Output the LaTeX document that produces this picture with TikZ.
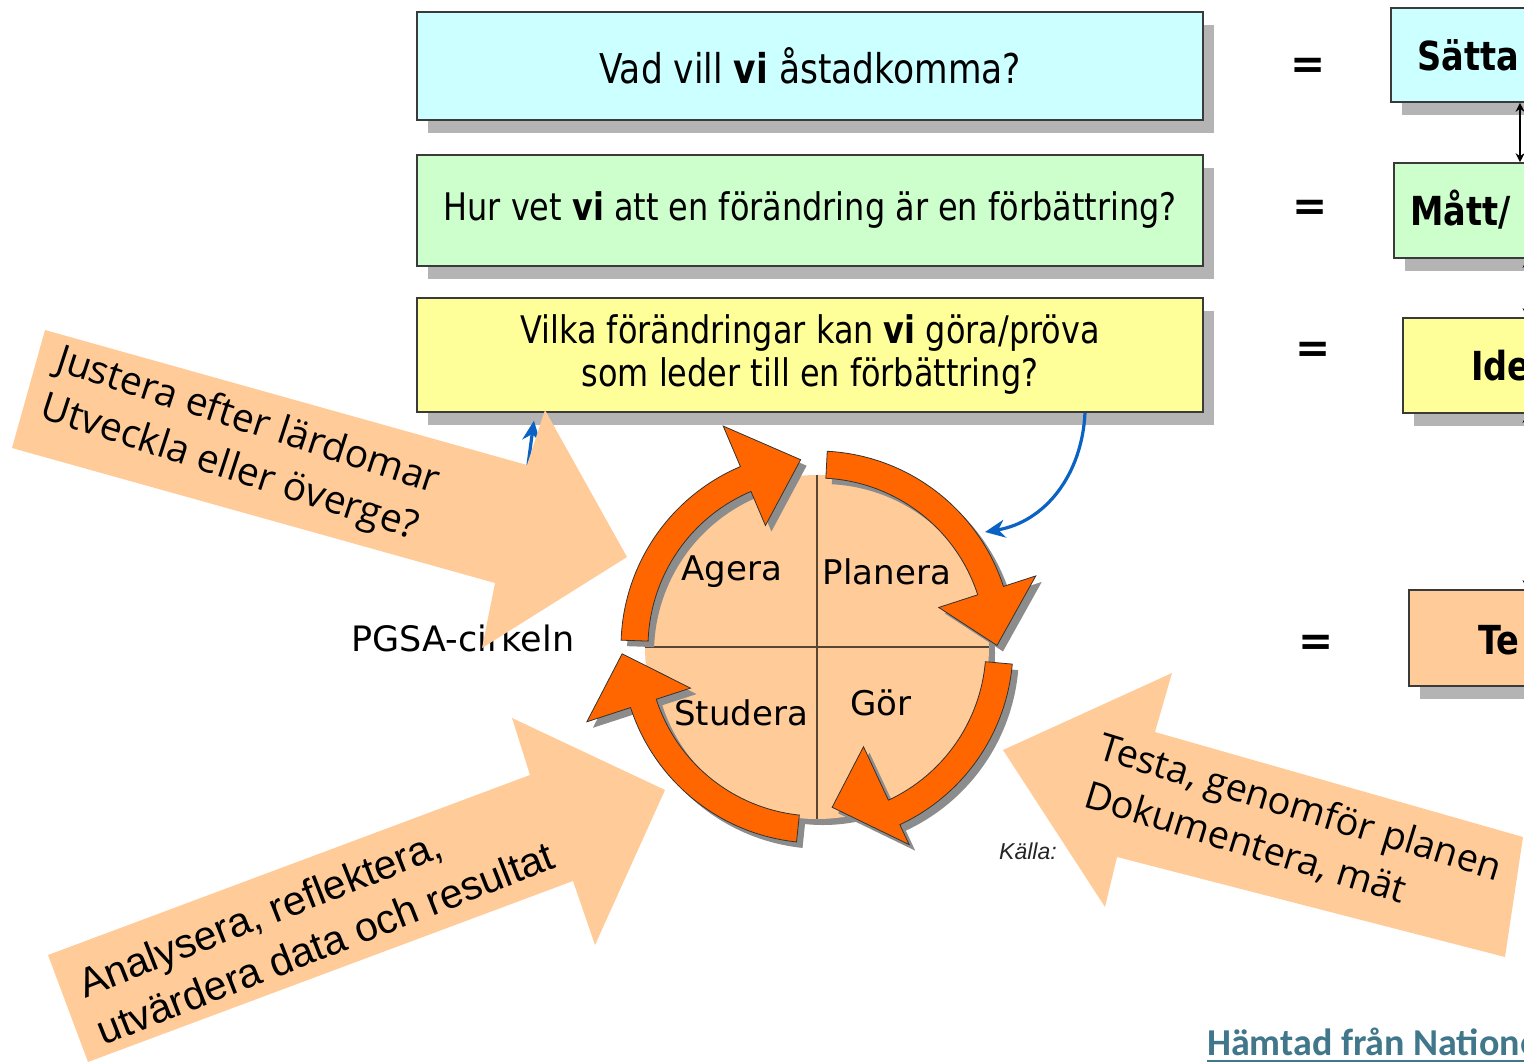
\documentclass[tikz,border=0pt]{standalone}
\usepackage{fontspec}
\usetikzlibrary{shadows,arrows.meta}
\setmainfont{DejaVu Sans}
\newfontfamily\tah{DejaVu Sans}[FakeStretch=0.84]
\newfontfamily\verd{DejaVu Sans}
\newfontfamily\opens{Open Sans}
\newfontfamily\arialf{Liberation Sans}
\newfontfamily\calib{Carlito}
\definecolor{cyanbox}{HTML}{CCFFFF}
\definecolor{greenbox}{HTML}{CCFFCC}
\definecolor{yellowbox}{HTML}{FFFF99}
\definecolor{peach}{HTML}{FFCC99}
\definecolor{callout}{HTML}{FFCC99}
\definecolor{ringorange}{HTML}{FF6600}
\definecolor{boxline}{HTML}{3A3A3A}
\definecolor{boxshadow}{HTML}{B4B4B4}
\definecolor{ringshadow}{HTML}{8C8C8C}
\definecolor{divline}{HTML}{5A4630}
\definecolor{bluec}{HTML}{0A62C4}
\definecolor{srcteal}{HTML}{41778A}
\newcommand\fsz[2]{\fontsize{#1}{#2}\selectfont}
\newcommand\ringpiece[7]{%
  \path[#1] ({817+196*cos(#2)},{647+196*sin(#2)}) arc[start angle=#2, end angle=#3, radius=196]
   -- ({817+#5*cos(#3)},{647+#5*sin(#3)}) -- ({817+#7*cos(#6)},{647+#7*sin(#6)})
   -- ({817+#4*cos(#3)},{647+#4*sin(#3)}) -- ({817+169*cos(#3)},{647+169*sin(#3)})
   arc[start angle=#3, end angle=#2, radius=169] -- cycle;}
\begin{document}
\begin{tikzpicture}[x=1pt,y=-1pt,
  qbox/.style={draw=boxline, line width=1.6pt, inner sep=0pt,
    general shadow={fill=boxshadow, shadow xshift=11pt, shadow yshift=-13pt}},
  qtext/.style={font=\tah\fsz{38}{43}, align=center},
  sidetext/.style={anchor=west, inner sep=0pt, font=\tah\bfseries\fsz{40}{48}},
  eqsign/.style={font=\verd\bfseries\fsz{42}{48}},
  sidearrow/.style={draw=black, line width=1.3pt, {Stealth[length=9pt,width=9pt]}-{Stealth[length=9pt,width=9pt]}},
  bluearrow/.style={draw=bluec, line width=3.2pt, -{Stealth[length=20pt,width=18pt]}},
  ringpart/.style={fill=ringorange, draw=black!80, line width=0.8pt},
  ringshade/.style={fill=ringshadow, shift={(6,6)}},
  phase/.style={font=\verd\fsz{34}{40}, inner sep=0pt},
  calloutshape/.style={fill=callout},
  callouttext/.style={align=left, inner sep=0pt}
]
\useasboundingbox (0,0) rectangle (1524,1061);
\clip (0,0) rectangle (1524,1061);
\fill[white] (0,0) rectangle (1524,1061);

% question boxes
\node[qbox, fill=cyanbox, minimum width=786pt, minimum height=108pt, font=\tah\fsz{41}{48}] (q1) at (810,66) {Vad vill \textbf{vi} åstadkomma?};
\node[qbox, fill=greenbox, minimum width=786pt, minimum height=111pt, qtext] (q2) at (810,210.5) {Hur vet \textbf{vi} att en förändring är en förbättring?};
\node[qbox, fill=yellowbox, minimum width=786pt, minimum height=114pt, qtext] (q3) at (810,355) {Vilka förändringar kan \textbf{vi} göra/pröva\\som leder till en förbättring?};

% right boxes
\node[qbox, fill=cyanbox, minimum width=200pt, minimum height=94pt, anchor=west] (r1) at (1390,55) {};
\node[qbox, fill=greenbox, minimum width=200pt, minimum height=95pt, anchor=west] (r2) at (1393,210.5) {};
\node[qbox, fill=yellowbox, minimum width=200pt, minimum height=95pt, anchor=west] (r3) at (1402,365.5) {};
\node[qbox, fill=peach, minimum width=200pt, minimum height=96pt, anchor=west] (r4) at (1408,638) {};
\node[sidetext] (r1t) at (1417,55) {Sätta};
\node[sidetext] (r2t) at (1410,210) {Mått/};
\node[sidetext] (r3t) at (1471,366) {Ide};
\node[sidetext] (r4t) at (1478,640) {Te};

\node[eqsign] (e1) at (1308,68) {=};
\node[eqsign] (e2) at (1310,210) {=};
\node[eqsign] (e3) at (1313,352) {=};
\node[eqsign] (e4) at (1316,645) {=};

\coordinate (xa) at (1520,0);
\coordinate (xb) at (1527,0);
\draw[sidearrow] (r1.south -| xa) -- (r2.north -| xa);
\draw[sidearrow] (r2.south -| xb) -- (r3.north -| xb);
\draw[sidearrow] (r3.south -| xb) -- (r4.north -| xb);

% blue arrows
\coordinate (bx1) at (1085,0);
\coordinate (b1end) at (985,532);
\draw[bluearrow] (q3.south -| bx1) .. controls (1082,475) and (1045,522) .. (b1end);
\coordinate (bx2) at (535,0);
\coordinate (b2start) at (526,480);
\draw[bluearrow, shorten >=8pt] (b2start) -- (q3.south -| bx2);

% PDSA circle
\fill[ringshadow] (823,653) circle[radius=172];
\node[circle, fill=peach, inner sep=0pt, minimum size=344pt] (disc) at (817,647) {};
\draw[divline, line width=1.6pt] (disc.north) -- (disc.south);
\draw[divline, line width=1.6pt] (disc.west) -- (disc.east);

\ringpiece{ringshade}{182}{247}{132}{240}{265}{188}
\ringpiece{ringshade}{273}{342}{128}{230}{359.5}{180}
\ringpiece{ringshade}{5}{65}{110}{218}{84.6}{161}
\ringpiece{ringshade}{96}{162}{133}{242}{178}{195}
\ringpiece{ringpart}{182}{247}{132}{240}{265}{188}
\ringpiece{ringpart}{273}{342}{128}{230}{359.5}{180}
\ringpiece{ringpart}{5}{65}{110}{218}{84.6}{161}
\ringpiece{ringpart}{96}{162}{133}{242}{178}{195}

\node[phase] (agera) at (732,572) {Agera};
\node[phase] (planera) at (887,572) {Planera};
\node[phase] (studera) at (741,713) {Studera};
\node[phase] (gor) at (881,703) {Gör};

\node[font=\verd\fsz{35}{40}, inner sep=0pt] (pgsa) at (463,638) {PGSA-cirkeln};
\node[font=\arialf\itshape\fsz{23}{27}, text=black!85, anchor=west, inner sep=0pt] (kalla) at (999,851) {Källa:};

% callout arrows
\fill[calloutshape] (45,330) -- (527,465) -- (545,410) -- (627,557) -- (482,648) -- (495,583) -- (12,448) -- cycle;
\node[callouttext, font=\opens\fsz{39}{50}, rotate=-18] (justera) at (240,446) {Justera efter lärdomar\\Utveckla eller överge?};

\fill[calloutshape] (48,955) -- (530,775) -- (512,718) -- (665,790) -- (595,945) -- (573,881) -- (88,1062) -- cycle;
\node[callouttext, font=\arialf\fsz{41}{51}, rotate=21.5] (analys) at (316,919) {Analysera, reflektera,\\utvärdera data och resultat};

\fill[calloutshape] (1003,750) -- (1172,673) -- (1155,732) -- (1523,837) -- (1505,957) -- (1117,857) -- (1105,907) -- cycle;
\node[callouttext, font=\opens\fsz{38}{50}, rotate=-17] (testa) at (1293,832) {Testa, genomför planen\\Dokumentera, mät};

% source line
\node[font=\calib\bfseries\fsz{38}{44}, text=srcteal, anchor=west, inner sep=0pt] (src) at (1207,1042) {Hämtad från Natione};
\draw[srcteal, line width=1.8pt] ([yshift=-5pt]src.base west) -- ([yshift=-5pt,xshift=40pt]src.base east);
\end{tikzpicture}
\end{document}
